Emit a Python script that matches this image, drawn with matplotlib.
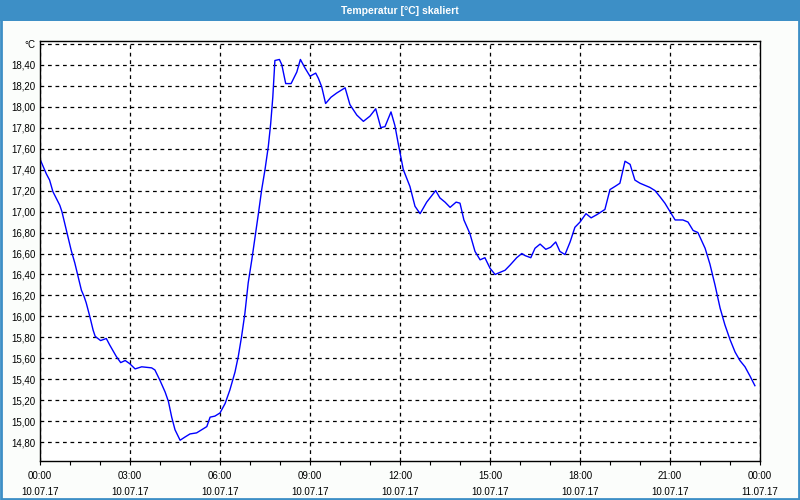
import matplotlib
matplotlib.use("Agg")
import matplotlib.pyplot as plt
from matplotlib.patches import Rectangle
from matplotlib.ticker import FixedLocator, MultipleLocator

# hours since 10.07.17 00:00
hours = [0.00, 0.21, 0.32, 0.43, 0.66, 0.73, 0.88, 1.04, 1.16, 1.27, 1.38, 1.47,
         1.54, 1.66, 1.77, 1.84, 2.02, 2.21, 2.32, 2.54, 2.69, 2.84, 2.99, 3.17,
         3.39, 3.72, 3.83, 4.00, 4.17, 4.28, 4.39, 4.50, 4.67, 4.83, 5.00, 5.22,
         5.39, 5.56, 5.67, 5.83, 6.00, 6.17, 6.33, 6.50, 6.61, 6.72, 6.83, 6.94,
         7.06, 7.17, 7.28, 7.39, 7.50, 7.61, 7.69, 7.76, 7.83, 7.98, 8.06, 8.19,
         8.37, 8.56, 8.68, 8.83, 9.00, 9.19, 9.28, 9.39, 9.52, 9.70, 9.89, 10.17,
         10.33, 10.56, 10.78, 11.00, 11.19, 11.36, 11.50, 11.70, 11.83, 11.94,
         12.11, 12.33, 12.50, 12.67, 12.89, 13.19, 13.33, 13.50, 13.67, 13.87,
         14.00, 14.13, 14.33, 14.50, 14.67, 14.83, 15.00, 15.17, 15.33, 15.50,
         15.67, 15.89, 16.06, 16.17, 16.36, 16.50, 16.67, 16.86, 17.02, 17.19,
         17.33, 17.50, 17.67, 17.83, 18.00, 18.20, 18.37, 18.56, 18.83, 19.00,
         19.17, 19.33, 19.50, 19.67, 19.83, 20.00, 20.33, 20.50, 20.67, 20.83,
         21.00, 21.17, 21.43, 21.60, 21.77, 21.93, 22.17, 22.33, 22.50, 22.67,
         22.83, 23.00, 23.17, 23.33, 23.50, 23.67, 23.83]
temps = [17.50, 17.36, 17.30, 17.19, 17.06, 17.00, 16.82, 16.63, 16.51, 16.38, 16.25, 16.19,
         16.13, 16.00, 15.87, 15.81, 15.77, 15.79, 15.73, 15.62, 15.56, 15.58, 15.55, 15.50,
         15.52, 15.51, 15.49, 15.39, 15.28, 15.19, 15.04, 14.92, 14.82, 14.85, 14.88, 14.89,
         14.92, 14.95, 15.04, 15.05, 15.08, 15.17, 15.30, 15.47, 15.62, 15.81, 16.03, 16.32,
         16.54, 16.76, 16.98, 17.21, 17.40, 17.62, 17.84, 18.09, 18.44, 18.45, 18.40, 18.22,
         18.22, 18.33, 18.45, 18.37, 18.29, 18.32, 18.27, 18.19, 18.03, 18.09, 18.13, 18.18,
         18.02, 17.92, 17.86, 17.91, 17.98, 17.80, 17.81, 17.95, 17.82, 17.65,
         17.40, 17.24, 17.05, 16.98, 17.09, 17.20, 17.13, 17.09, 17.04, 17.09,
         17.08, 16.92, 16.79, 16.62, 16.54, 16.56, 16.46, 16.40, 16.42, 16.44,
         16.49, 16.56, 16.60, 16.58, 16.56, 16.65, 16.69, 16.64, 16.66, 16.71,
         16.62, 16.59, 16.71, 16.85, 16.90, 16.98, 16.94, 16.97, 17.02, 17.21,
         17.24, 17.27, 17.48, 17.45, 17.30, 17.27, 17.23, 17.20, 17.14, 17.08,
         17.00, 16.92, 16.92, 16.90, 16.82, 16.80, 16.65, 16.50, 16.30, 16.08,
         15.92, 15.78, 15.66, 15.58, 15.52, 15.43, 15.34]

x_ticks = [0, 3, 6, 9, 12, 15, 18, 21, 24]
x_labels = ["00:00\n10.07.17", "03:00\n10.07.17", "06:00\n10.07.17",
            "09:00\n10.07.17", "12:00\n10.07.17", "15:00\n10.07.17",
            "18:00\n10.07.17", "21:00\n10.07.17", "00:00\n11.07.17"]
y_ticks = [14.8, 15.0, 15.2, 15.4, 15.6, 15.8, 16.0, 16.2, 16.4, 16.6,
           16.8, 17.0, 17.2, 17.4, 17.6, 17.8, 18.0, 18.2, 18.4, 18.6]

title = "Temperatur [°C] skaliert"
unit = "°C"

plt.rcParams['font.family'] = ['Liberation Sans', 'DejaVu Sans']

fig = plt.figure(figsize=(8, 5), dpi=100, facecolor="#fbfdfb")

# title bar and outer frame
fig.patches.append(Rectangle((0, 0.958), 1, 0.042, transform=fig.transFigure,
                             facecolor="#3d8fc6", edgecolor="none", zorder=0))
fig.patches.append(Rectangle((0.001, 0.002), 0.998, 0.996, transform=fig.transFigure,
                             facecolor="none", edgecolor="#3d8fc6", lw=2, zorder=0))
fig.text(0.5, 0.979, title, color="white", fontsize=7.5, fontweight="bold",
         ha="center", va="center")

ax = fig.add_axes([0.05, 0.078, 0.9, 0.84])
ax.set_facecolor("white")
ax.plot(hours, temps, color="#0000ff", lw=1)

ax.set_xlim(0, 24)
ax.set_ylim(14.622, 18.626)

ax.set_xticks(x_ticks)
ax.set_xticklabels(x_labels, fontsize=7, linespacing=1.75)
ax.xaxis.set_minor_locator(MultipleLocator(1))
ax.tick_params(axis="x", which="both", direction="out", length=3, width=0.8, pad=4)

ax.yaxis.set_major_locator(FixedLocator(y_ticks))
ylabels = [f"{v:.2f}".replace(".", ",") for v in y_ticks]
ylabels[-1] = unit
ax.set_yticklabels(ylabels, fontsize=7)
ax.tick_params(axis="y", length=0, pad=3)

ax.grid(True, which="major", color="black", linestyle=(0, (3, 3)), lw=0.9)
for s in ax.spines.values():
    s.set_color("black")
    s.set_linewidth(1)

fig.savefig("out.png", dpi=100, facecolor=fig.get_facecolor())
